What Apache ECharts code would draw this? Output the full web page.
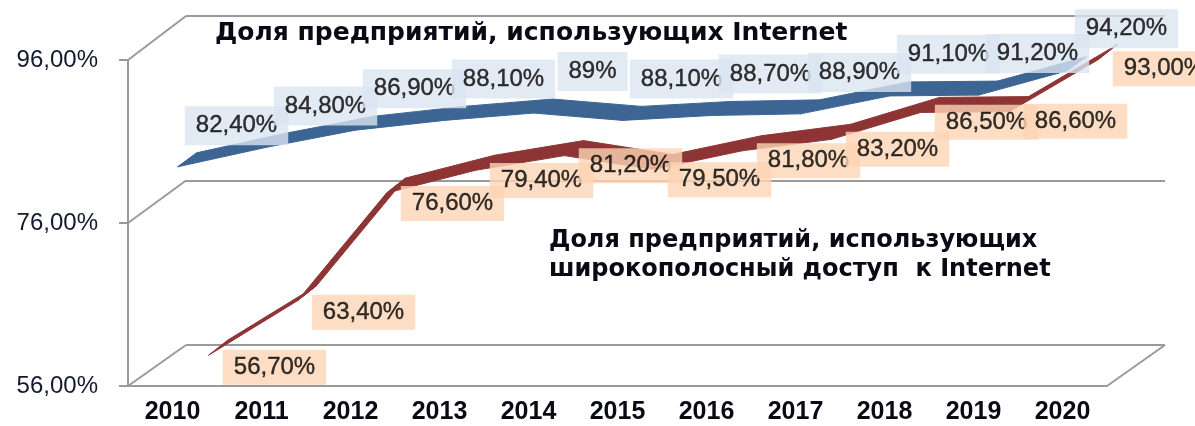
<!DOCTYPE html>
<html>
<head>
<meta charset="utf-8">
<script src="https://cdn.jsdelivr.net/npm/echarts@6/dist/echarts.min.js"></script>
<style>
  html, body { margin: 0; padding: 0; background: #fff; }
  #chart { width: 1195px; height: 426px; }
</style>
</head>
<body>
<div id="chart"></div>
<script>
const years = ["2010", "2011", "2012", "2013", "2014", "2015", "2016", "2017", "2018", "2019", "2020"];
const internetShare = [82.4, 84.8, 86.9, 88.1, 89, 88.1, 88.7, 88.9, 91.1, 91.2, 94.2];
const broadbandShare = [56.7, 63.4, 76.6, 79.4, 81.2, 79.5, 81.8, 83.2, 86.5, 86.6, 93.0];
const internetLabels = ["82,40%", "84,80%", "86,90%", "88,10%", "89%", "88,10%", "88,70%", "88,90%", "91,10%", "91,20%", "94,20%"];
const broadbandLabels = ["56,70%", "63,40%", "76,60%", "79,40%", "81,20%", "79,50%", "81,80%", "83,20%", "86,50%", "86,60%", "93,00%"];
const yTicks = [56, 76, 96];

const internetTitle = "Доля предприятий, использующих Internet";
const broadbandTitle = "Доля предприятий, использующих\nширокополосный доступ  к Internet";

// front plane and back wall of the fake 3d box
const FRONT = { left: 128, right: 88, top: 60, bottom: 40 };
const BACK = { left: 186, right: 30, top: 16, bottom: 81 };
const W = 1195;
const FONT = "'Liberation Sans', Arial, sans-serif";
const WIDE = "'DejaVu Sans', Verdana, sans-serif";
const GRAY = "#9a9a9a";

const chart = echarts.init(document.getElementById("chart"));

function segments(values) {
  return values.slice(1).map((v, i) => [i, values[i], v]);
}

// a ribbon segment between two points, pushed back into the box
function ribbon(front, back, color) {
  return (params, api) => {
    const i = api.value(0);
    const a = api.coord([i, api.value(1)]);
    const b = api.coord([i + 1, api.value(2)]);
    return {
      type: "polygon",
      shape: {
        points: [
          [a[0] + front[0], a[1] + front[1]],
          [b[0] + front[0], b[1] + front[1]],
          [b[0] + back[0], b[1] + back[1]],
          [a[0] + back[0], a[1] + back[1]]
        ]
      },
      style: { fill: color, stroke: color, lineWidth: 1 }
    };
  };
}

function labelSeries(values, texts, bg, offset, padding) {
  return {
    type: "scatter",
    xAxisIndex: 1,
    yAxisIndex: 1,
    symbolSize: 1,
    itemStyle: { color: "transparent" },
    silent: true,
    z: 5,
    data: values,
    label: {
      show: true,
      position: "inside",
      offset: offset,
      formatter: p => texts[p.dataIndex],
      backgroundColor: bg,
      padding: padding,
      fontSize: 24,
      lineHeight: 25,
      fontFamily: FONT,
      color: "#000",
      textBorderColor: "#000",
      textBorderWidth: 0.4
    }
  };
}

const option = {
  animation: false,
  title: [
    {
      text: internetTitle,
      left: 210,
      top: 16,
      textStyle: { fontSize: 25, fontWeight: "bold", fontFamily: WIDE, color: "#0a0a14" }
    },
    {
      text: broadbandTitle,
      left: 544,
      top: 221,
      textStyle: { fontSize: 24, fontWeight: "bold", fontFamily: WIDE, color: "#0a0a14", lineHeight: 29 }
    }
  ],
  grid: [
    { left: FRONT.left, right: FRONT.right, top: FRONT.top, bottom: FRONT.bottom },
    { left: BACK.left, right: BACK.right, top: BACK.top, bottom: BACK.bottom }
  ],
  xAxis: [
    {
      type: "category",
      gridIndex: 0,
      data: years,
      boundaryGap: true,
      axisLine: { lineStyle: { color: GRAY, width: 2 } },
      axisTick: { length: 7, lineStyle: { color: GRAY, width: 2 } },
      axisLabel: { fontSize: 25, fontWeight: "bold", fontFamily: FONT, color: "#0a0a14", margin: 14 }
    },
    {
      type: "category",
      gridIndex: 1,
      data: years,
      boundaryGap: true,
      show: false
    }
  ],
  yAxis: [
    {
      type: "value",
      gridIndex: 0,
      min: 56,
      max: 96,
      interval: 20,
      splitLine: { show: false },
      axisLine: { show: true, lineStyle: { color: GRAY, width: 2 } },
      axisTick: { show: true, length: 9, lineStyle: { color: GRAY, width: 2 } },
      axisLabel: {
        fontSize: 24,
        fontFamily: FONT,
        color: "#141a2e",
        margin: 30,
        formatter: v => v.toFixed(2).replace(".", ",") + "%"
      }
    },
    {
      type: "value",
      gridIndex: 1,
      min: 56,
      max: 96,
      interval: 20,
      axisLine: { show: false },
      axisTick: { show: false },
      axisLabel: { show: false },
      splitLine: { show: true, lineStyle: { color: GRAY, width: 2 } }
    }
  ],
  series: [
    {
      type: "custom",
      xAxisIndex: 0,
      yAxisIndex: 0,
      clip: false,
      silent: true,
      z: 2,
      renderItem: ribbon([36, -25], [55, -40], "#8e3434"),
      data: segments(broadbandShare)
    },
    {
      type: "custom",
      xAxisIndex: 0,
      yAxisIndex: 0,
      clip: false,
      silent: true,
      z: 3,
      renderItem: ribbon([5, -4], [24, -18], "#3d6594"),
      data: segments(internetShare)
    },
    labelSeries(broadbandShare, broadbandLabels, "#fcd5b4", [44, 28], [5, 11]),
    labelSeries(internetShare, internetLabels, "#dbe5f1", [6, -2], [7, 11])
  ]
};

chart.setOption(option);

// diagonals that join the front axes to the back wall
const diag = [];
yTicks.forEach(v => {
  const yf = chart.convertToPixel({ yAxisIndex: 0 }, v);
  const yb = chart.convertToPixel({ yAxisIndex: 1 }, v);
  diag.push([FRONT.left, yf, BACK.left, yb]);
});
diag.push([
  W - FRONT.right, chart.convertToPixel({ yAxisIndex: 0 }, yTicks[0]),
  W - BACK.right, chart.convertToPixel({ yAxisIndex: 1 }, yTicks[0])
]);

chart.setOption({
  graphic: diag.map(d => ({
    type: "line",
    z: 0,
    silent: true,
    shape: { x1: d[0], y1: d[1], x2: d[2], y2: d[3] },
    style: { stroke: GRAY, lineWidth: 2 }
  }))
});
</script>
</body>
</html>
